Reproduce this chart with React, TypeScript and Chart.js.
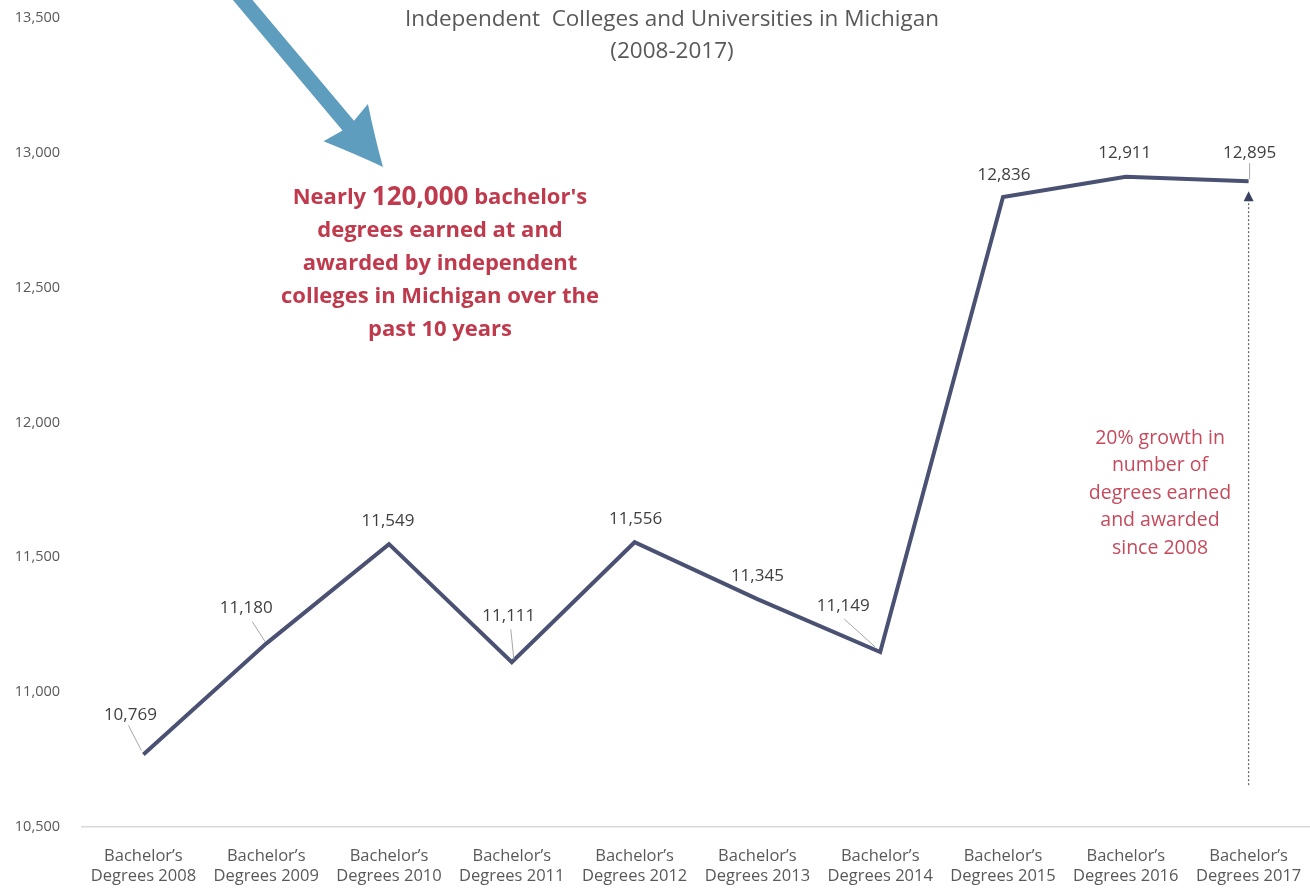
import React, { useEffect, useRef } from "react";
import { Chart, registerables } from "chart.js";

Chart.register(...registerables);

// ---------- data ----------
const years = ["2008", "2009", "2010", "2011", "2012", "2013", "2014", "2015", "2016", "2017"];
const categories = years.map((y) => ["Bachelor\u2019s", `Degrees ${y}`]);
const degrees = [10769, 11180, 11549, 11111, 11556, 11345, 11149, 12836, 12911, 12895];
const yMin = 10500;
const yMax = 13500;
const yStep = 500;
const titleLines = ["Independent  Colleges and Universities in Michigan", "(2008-2017)"];
const calloutLines = [
  "degrees earned at and",
  "awarded by independent",
  "colleges in Michigan over the",
  "past 10 years",
];
const calloutFirst = ["Nearly ", "120,000", " bachelor's"];
const growthLines = ["20% growth in", "number of", "degrees earned", "and awarded", "since 2008"];
const growthArrowBaseValue = 10650;

// ---------- label placement (pixels relative to each point) ----------
const LABEL_OFFSETS: [number, number][] = [
  [-13, -39], [-20, -35], [-1, -23], [-3, -46], [1, -23],
  [0, -23], [-37, -46], [1, -22], [-1, -24], [1, -28],
];
const LEADERS: (number[] | null)[] = [
  [-15, -29, -2, -4],
  [-14, -22, -1, -2],
  null,
  [-1, -33, 2, -3],
  null,
  null,
  [-36, -33, -5, -5],
  null,
  null,
  [1, -18, 1, -2],
];

const FONT = '"Open Sans", "DejaVu Sans", sans-serif';
const RED_BOLD = "#bf3a4c";
const RED = "#c44a5c";

const overlay = {
  id: "overlay",
  afterDatasetsDraw(chart: any) {
    const ctx = chart.ctx as CanvasRenderingContext2D;
    const meta = chart.getDatasetMeta(0);
    ctx.save();
    meta.data.forEach((pt: any, i: number) => {
      const lead = LEADERS[i];
      if (lead) {
        ctx.strokeStyle = "#a6a6a6";
        ctx.lineWidth = 1;
        ctx.beginPath();
        ctx.moveTo(pt.x + lead[0], pt.y + lead[1]);
        ctx.lineTo(pt.x + lead[2], pt.y + lead[3]);
        ctx.stroke();
      }
      const [dx, dy] = LABEL_OFFSETS[i];
      ctx.fillStyle = "#404040";
      ctx.font = `17px ${FONT}`;
      ctx.textAlign = "center";
      ctx.textBaseline = "middle";
      ctx.fillText(degrees[i].toLocaleString("en-US"), pt.x + dx, pt.y + dy);
    });
    ctx.restore();
  },
  afterDraw(chart: any) {
    const ctx = chart.ctx as CanvasRenderingContext2D;
    const xs = chart.scales.x;
    const ys = chart.scales.y;
    ctx.save();

    // title
    ctx.fillStyle = "#595959";
    ctx.font = `22.5px ${FONT}`;
    ctx.textAlign = "center";
    ctx.textBaseline = "middle";
    ctx.fillText(titleLines[0], 672, 20);
    ctx.fillText(titleLines[1], 672, 52);

    // big blue arrow
    {
      const sx = 236, sy = -8;
      const tx = 383, ty = 167;
      const len = Math.hypot(tx - sx, ty - sy);
      const ux = (tx - sx) / len, uy = (ty - sy) / len;
      const px = -uy, py = ux;
      const headLen = 54;
      const headHalf = 29;
      const shaftHalf = 7.5;
      const bx = tx - ux * headLen, by = ty - uy * headLen;
      const back = 4;
      ctx.fillStyle = "#5e9dbd";
      ctx.beginPath();
      ctx.moveTo(sx + px * shaftHalf, sy + py * shaftHalf);
      ctx.lineTo(bx + px * shaftHalf, by + py * shaftHalf);
      const b1x = bx + px * headHalf - ux * back, b1y = by + py * headHalf - uy * back;
      const b2x = bx - px * headHalf - ux * back, b2y = by - py * headHalf - uy * back;
      ctx.lineTo(b1x, b1y);
      ctx.quadraticCurveTo(
        bx + px * 11 + ux * headLen * 0.55, by + py * 11 + uy * headLen * 0.55,
        tx, ty
      );
      ctx.quadraticCurveTo(
        bx - px * 11 + ux * headLen * 0.55, by - py * 11 + uy * headLen * 0.55,
        b2x, b2y
      );
      ctx.lineTo(bx - px * shaftHalf, by - py * shaftHalf);
      ctx.lineTo(sx - px * shaftHalf, sy - py * shaftHalf);
      ctx.closePath();
      ctx.fill();
    }

    // red bold callout
    {
      const cx = 440;
      ctx.fillStyle = RED_BOLD;
      ctx.textBaseline = "middle";
      const fonts = [`bold 22px ${FONT}`, `bold 26px ${FONT}`, `bold 22px ${FONT}`];
      let total = 0;
      const widths = calloutFirst.map((s, i) => {
        ctx.font = fonts[i];
        const w = ctx.measureText(s).width;
        total += w;
        return w;
      });
      let x = cx - total / 2;
      ctx.textAlign = "left";
      calloutFirst.forEach((s, i) => {
        ctx.font = fonts[i];
        ctx.fillText(s, x, 198);
        x += widths[i];
      });
      ctx.textAlign = "center";
      ctx.font = `bold 22px ${FONT}`;
      calloutLines.forEach((s, i) => ctx.fillText(s, cx, 231 + i * 33));
    }

    // growth note
    ctx.fillStyle = RED;
    ctx.font = `19.5px ${FONT}`;
    ctx.textAlign = "center";
    growthLines.forEach((s, i) => ctx.fillText(s, 1160, 438 + i * 27.5));

    // dotted growth arrow under last point
    {
      const last = degrees.length - 1;
      const x = xs.getPixelForValue(last);
      const ptY = ys.getPixelForValue(degrees[last]);
      const apex = ptY + 10;
      const base = ys.getPixelForValue(growthArrowBaseValue);
      ctx.strokeStyle = "#6b6b6b";
      ctx.lineWidth = 1.3;
      ctx.setLineDash([2, 2]);
      ctx.beginPath();
      ctx.moveTo(x, apex + 8);
      ctx.lineTo(x, base);
      ctx.stroke();
      ctx.setLineDash([]);
      ctx.fillStyle = "#3a4160";
      ctx.beginPath();
      ctx.moveTo(x, apex);
      ctx.lineTo(x - 5, apex + 10);
      ctx.lineTo(x + 5, apex + 10);
      ctx.closePath();
      ctx.fill();
    }

    ctx.restore();
  },
};

export default function App() {
  const ref = useRef<HTMLCanvasElement | null>(null);

  useEffect(() => {
    if (!ref.current) return;
    const chart = new Chart(ref.current, {
      type: "line",
      data: {
        labels: categories as any,
        datasets: [
          {
            data: degrees,
            borderColor: "#4a5173",
            borderWidth: 4,
            pointRadius: 0,
            tension: 0,
            fill: false,
          },
        ],
      },
      options: {
        responsive: false,
        animation: false,
        layout: { padding: { top: 18, right: 0, bottom: 0, left: 0 } },
        plugins: {
          legend: { display: false },
          tooltip: { enabled: false },
          title: { display: false },
        },
        scales: {
          x: {
            offset: true,
            grid: { display: false, drawTicks: false },
            border: { display: true, color: "#d9d9d9", width: 1.5 },
            ticks: {
              color: "#595959",
              font: { family: FONT, size: 16.5, lineHeight: 1.22 },
              padding: 19,
              maxRotation: 0,
              autoSkip: false,
            },
            afterFit: (s: any) => {
              s.height = 63;
              s.paddingLeft = 0;
              s.paddingRight = 0;
            },
          },
          y: {
            min: yMin,
            max: yMax,
            grid: { display: false, drawTicks: false },
            border: { display: false },
            ticks: {
              stepSize: yStep,
              color: "#595959",
              font: { family: FONT, size: 14.5 },
              padding: 22,
              callback: (v: any) => Number(v).toLocaleString("en-US"),
            },
            afterFit: (s: any) => {
              s.width = 82;
              s.paddingTop = 0;
              s.paddingBottom = 0;
            },
          },
        },
      },
      plugins: [overlay],
    });
    return () => chart.destroy();
  }, []);

  return (
    <div style={{ position: "absolute", left: 0, top: 0, width: 1310, height: 890, background: "#fff" }}>
      <canvas ref={ref} width={1310} height={890} style={{ display: "block" }} />
    </div>
  );
}
